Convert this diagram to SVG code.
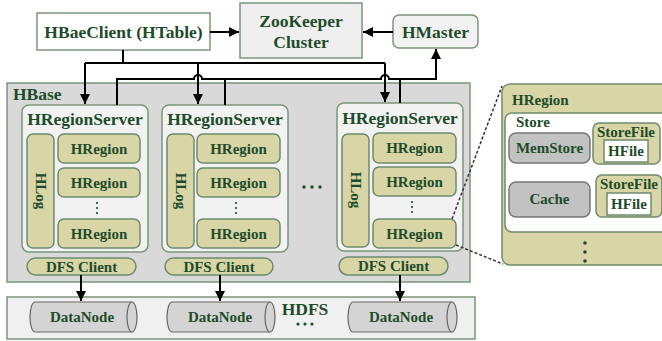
<svg xmlns="http://www.w3.org/2000/svg" width="662" height="341" viewBox="0 0 662 341">
<style>
text{font-family:"Liberation Serif","Times New Roman",serif;font-weight:bold;fill:#1e4b2a;}
.t15{font-size:15px;}
.t17{font-size:17.5px;}
.box{fill:#f2f2f2;stroke:#7c947c;stroke-width:1.5;}
.ol{fill:#d8d6a6;stroke:#6e8a6e;stroke-width:1.5;}
.gr{fill:#c2c2c2;stroke:#777;stroke-width:1.5;}
.wh{fill:#fff;stroke:#6e8a6e;stroke-width:1.5;}
.cyl{fill:#d4d4d4;stroke:#666;stroke-width:1.2;}
.ln{fill:none;stroke:#000;stroke-width:2;}
.dash{fill:none;stroke:#333;stroke-width:1.5;stroke-dasharray:3 2;}
.dot{fill:#1e4b2a;}
</style>
<defs>
<marker id="ah" viewBox="0 0 10 10" refX="10" refY="5" markerWidth="5" markerHeight="5" orient="auto" markerUnits="strokeWidth">
<path d="M0,0 L10,5 L0,10 z" fill="#000"/>
</marker>
</defs>

<g id="hbase">
<rect x="7" y="83" width="463" height="199" fill="#d9d9d9" stroke="#7c947c" stroke-width="1.5"/>
<text class="t17" x="13" y="100">HBase</text>
</g>

<g id="hdfs">
<rect x="7" y="297" width="468" height="42" fill="#f0f0f0" stroke="#7c947c" stroke-width="1.5"/>
<text class="t17" x="305" y="315" text-anchor="middle">HDFS</text>
<circle class="dot" cx="298" cy="324" r="1.6"/><circle class="dot" cx="305" cy="324" r="1.6"/><circle class="dot" cx="312" cy="324" r="1.6"/>
</g>

<g id="client">
<rect x="37" y="13" width="173" height="37" fill="#fff" stroke="#7c947c" stroke-width="1.5"/>
<text class="t17" x="123.5" y="38" text-anchor="middle">HBaeClient (HTable)</text>
</g>

<g id="zookeeper">
<rect x="240" y="3" width="122" height="55" fill="#efefef" stroke="#7c947c" stroke-width="1.5"/>
<text class="t17" x="301" y="27" text-anchor="middle">ZooKeeper</text>
<text class="t17" x="301" y="48" text-anchor="middle">Cluster</text>
</g>

<g id="hmaster">
<rect x="393" y="15" width="85" height="33" rx="6" class="box"/>
<text class="t17" x="435.5" y="38" text-anchor="middle">HMaster</text>
</g>

<g id="server1">
<rect x="22" y="105" width="126" height="147" rx="7" class="box"/>
<text class="t17" x="85" y="125" text-anchor="middle">HRegionServer</text>
<rect x="27" y="134" width="27" height="114" rx="6" class="ol"/>
<text class="t15" transform="translate(36 191) rotate(90)" text-anchor="middle">HLog</text>
<rect x="58" y="134" width="82" height="29" rx="6" class="ol"/>
<text class="t15" x="99" y="154" text-anchor="middle">HRegion</text>
<rect x="58" y="168" width="82" height="29" rx="6" class="ol"/>
<text class="t15" x="99" y="188" text-anchor="middle">HRegion</text>
<circle class="dot" cx="97" cy="203" r="1.1"/><circle class="dot" cx="97" cy="208" r="1.1"/><circle class="dot" cx="97" cy="213" r="1.1"/>
<rect x="58" y="219" width="82" height="29" rx="6" class="ol"/>
<text class="t15" x="99" y="239" text-anchor="middle">HRegion</text>
<rect x="27" y="258" width="109" height="17" rx="8.5" class="ol"/>
<text class="t15" x="81.5" y="272" text-anchor="middle">DFS Client</text>
</g>

<g id="server2">
<rect x="162" y="105" width="126" height="147" rx="7" class="box"/>
<text class="t17" x="225" y="125" text-anchor="middle">HRegionServer</text>
<rect x="167" y="134" width="27" height="114" rx="6" class="ol"/>
<text class="t15" transform="translate(176 191) rotate(90)" text-anchor="middle">HLog</text>
<rect x="197" y="134" width="83" height="29" rx="6" class="ol"/>
<text class="t15" x="238.5" y="154" text-anchor="middle">HRegion</text>
<rect x="197" y="168" width="83" height="29" rx="6" class="ol"/>
<text class="t15" x="238.5" y="188" text-anchor="middle">HRegion</text>
<circle class="dot" cx="236" cy="203" r="1.1"/><circle class="dot" cx="236" cy="208" r="1.1"/><circle class="dot" cx="236" cy="213" r="1.1"/>
<rect x="197" y="219" width="83" height="29" rx="6" class="ol"/>
<text class="t15" x="238.5" y="239" text-anchor="middle">HRegion</text>
<rect x="165" y="258" width="108" height="17" rx="8.5" class="ol"/>
<text class="t15" x="219" y="272" text-anchor="middle">DFS Client</text>
</g>

<g id="ellipsis">
<circle class="dot" cx="304" cy="187" r="1.7"/><circle class="dot" cx="312" cy="187" r="1.7"/><circle class="dot" cx="320" cy="187" r="1.7"/>
</g>

<g id="server3">
<rect x="337" y="103" width="126" height="148" rx="7" class="box"/>
<text class="t17" x="400" y="124" text-anchor="middle">HRegionServer</text>
<rect x="342" y="134" width="27" height="113" rx="6" class="ol"/>
<text class="t15" transform="translate(351 190) rotate(90)" text-anchor="middle">HLog</text>
<rect x="373" y="133" width="83" height="30" rx="6" class="ol"/>
<text class="t15" x="414.5" y="153" text-anchor="middle">HRegion</text>
<rect x="373" y="167" width="83" height="29" rx="6" class="ol"/>
<text class="t15" x="414.5" y="187" text-anchor="middle">HRegion</text>
<circle class="dot" cx="412" cy="202" r="1.1"/><circle class="dot" cx="412" cy="207" r="1.1"/><circle class="dot" cx="412" cy="212" r="1.1"/>
<rect x="373" y="219" width="83" height="29" rx="6" class="ol"/>
<text class="t15" x="414.5" y="239" text-anchor="middle">HRegion</text>
<rect x="339" y="257" width="109" height="18" rx="9" class="ol"/>
<text class="t15" x="393.5" y="271" text-anchor="middle">DFS Client</text>
</g>

<g id="datanode1">
<path class="cyl" d="M35,302 H132 A5,15 0 0 1 132,332 H35 A5,15 0 0 1 35,302 z"/>
<path class="cyl" d="M132,302 A5,15 0 0 0 132,332" fill="none"/>
<text class="t15" x="82" y="322" text-anchor="middle">DataNode</text>
</g>
<g id="datanode2">
<path class="cyl" d="M172,302 H270 A5,15 0 0 1 270,332 H172 A5,15 0 0 1 172,302 z"/>
<path class="cyl" d="M270,302 A5,15 0 0 0 270,332" fill="none"/>
<text class="t15" x="220" y="322" text-anchor="middle">DataNode</text>
</g>
<g id="datanode3">
<path class="cyl" d="M353,302 H452 A5,15 0 0 1 452,332 H353 A5,15 0 0 1 353,302 z"/>
<path class="cyl" d="M452,302 A5,15 0 0 0 452,332" fill="none"/>
<text class="t15" x="401" y="322" text-anchor="middle">DataNode</text>
</g>

<g id="hregion-detail">
<svg x="0" y="0" width="662" height="341" overflow="hidden">
<rect x="502" y="84" width="170" height="181" rx="8" class="ol"/>
<text class="t15" x="512" y="105">HRegion</text>
<rect x="505" y="113" width="170" height="119" rx="7" class="wh"/>
<text class="t15" x="516" y="127">Store</text>
<rect x="509" y="133" width="81" height="30" rx="7" class="gr"/>
<text class="t15" x="549.5" y="153" text-anchor="middle">MemStore</text>
<rect x="509" y="182" width="81" height="35" rx="7" class="gr"/>
<text class="t15" x="549.5" y="204" text-anchor="middle">Cache</text>
<rect x="593" y="123" width="67" height="41" rx="6" class="ol"/>
<text class="t15" x="626" y="137" text-anchor="middle">StoreFile</text>
<rect x="604" y="140" width="44" height="22" class="wh"/>
<text class="t15" x="626" y="156" text-anchor="middle">HFile</text>
<rect x="596" y="175" width="66" height="42" rx="6" class="ol"/>
<text class="t15" x="629" y="189" text-anchor="middle">StoreFile</text>
<rect x="607" y="193" width="44" height="22" class="wh"/>
<text class="t15" x="629" y="209" text-anchor="middle">HFile</text>
<circle class="dot" cx="585" cy="243" r="1.8"/><circle class="dot" cx="585" cy="252" r="1.8"/><circle class="dot" cx="585" cy="261" r="1.8"/>
</svg>
</g>

<g id="connectors">
<line class="ln" x1="210" y1="32" x2="239" y2="32" marker-end="url(#ah)"/>
<line class="ln" x1="393" y1="32" x2="363" y2="32" marker-end="url(#ah)"/>
<path class="ln" d="M123,50 V63"/>
<path class="ln" d="M85,63 H385"/>
<line class="ln" x1="85" y1="63" x2="85" y2="104" marker-end="url(#ah)"/>
<line class="ln" x1="198" y1="63" x2="198" y2="104" marker-end="url(#ah)"/>
<line class="ln" x1="385" y1="63" x2="385" y2="102" marker-end="url(#ah)"/>
<path class="ln" d="M117,105 V79 H194 A4,4 0 0 1 202,79 H381 A4,4 0 0 1 389,79 H436 V49" marker-end="url(#ah)"/>
<path class="ln" d="M225,79 V105"/>
<path class="ln" d="M400,79 V103"/>
<line class="ln" x1="81" y1="275" x2="81" y2="301" marker-end="url(#ah)"/>
<line class="ln" x1="220" y1="275" x2="220" y2="301" marker-end="url(#ah)"/>
<line class="ln" x1="400" y1="275" x2="400" y2="301" marker-end="url(#ah)"/>
<line class="dash" x1="452" y1="219" x2="502" y2="86"/>
<line class="dash" x1="456" y1="245" x2="503" y2="264"/>
</g>
</svg>
